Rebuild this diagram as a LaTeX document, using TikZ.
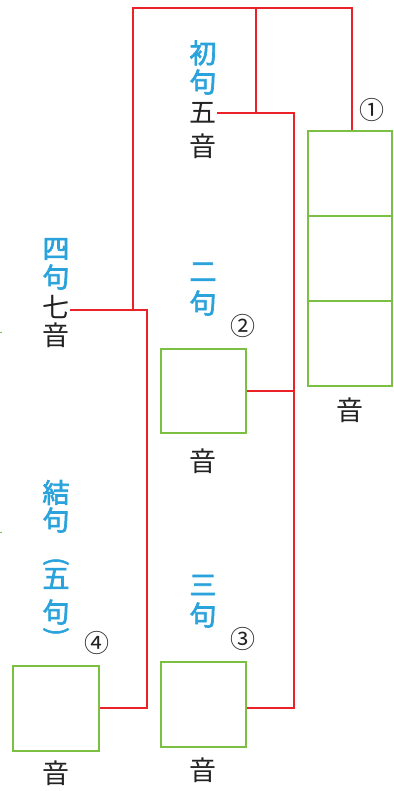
\documentclass[tikz,border=0pt]{standalone}
\usepackage{fontspec}
\newfontfamily\jp{Noto Sans CJK JP}
\newfontfamily\jpm{Noto Sans CJK JP}[FakeBold=2.5]
\definecolor{lblue}{HTML}{2AA2DB}
\definecolor{lred}{HTML}{EC2229}
\definecolor{lgreen}{HTML}{7BC043}
\definecolor{ltext}{HTML}{222222}
\tikzset{
  redline/.style={draw=lred, line width=2pt},
  gbox/.style={draw=lgreen, line width=1.7pt, inner sep=0, minimum width=85pt, minimum height=85pt},
  bluech/.style={text=lblue, inner sep=0.5pt, font=\jpm\fontsize{27}{27}\selectfont},
  bluepar/.style={text=lblue, inner sep=0pt, rotate=-90, font=\jpm\fontsize{25}{25}\selectfont},
  blackch/.style={text=ltext, inner sep=0.5pt, font=\jp\fontsize{27}{27}\selectfont},
  circnum/.style={text=ltext, inner sep=0, font=\jp\fontsize{25}{25}\selectfont},
}
\begin{document}
\begin{tikzpicture}[x=1pt,y=-1pt]
\path[use as bounding box] (0,0) rectangle (393,791);

% green boxes
\node[gbox, minimum width=84pt] (k1a) at (350,173.5) {};
\node[gbox, minimum width=84pt] (k1b) at (350,258.5) {};
\node[gbox, minimum width=84pt] (k1c) at (350,343.5) {};
\node[gbox, minimum height=84pt] (k2) at (203.5,391) {};
\node[gbox] (k3) at (203.5,704.5) {};
\node[gbox, minimum width=86pt] (k4) at (56,708.5) {};

% blue labels
\node[bluech] (c1a) at (203,53) {初};
\node[bluech] (c1b) at (203,82) {句};
\node[bluech] (c4a) at (56,249) {四};
\node[bluech] (c4b) at (56,277) {句};
\node[bluech] (c2a) at (203,272) {二};
\node[bluech] (c2b) at (203,303) {句};
\node[bluech] (c5a) at (56,492.5) {結};
\node[bluech] (c5b) at (56,520) {句};
\node[bluepar] (c5c) at (56,561.5) {(};
\node[bluech] (c5d) at (56,578.5) {五};
\node[bluech] (c5e) at (56,612) {句};
\node[bluepar] (c5f) at (56,631.5) {)};
\node[bluech] (c3a) at (203,585) {三};
\node[bluech] (c3b) at (203,615) {句};

% black labels
\node[blackch] (n1a) at (203,113) {五};
\node[blackch] (n1b) at (203,146) {音};
\node[blackch] (n4a) at (56,307) {七};
\node[blackch] (n4b) at (56,335) {音};
\node[blackch] (a1) at (350,410) {音};
\node[blackch] (a2) at (203,461) {音};
\node[blackch] (a3) at (203,770) {音};
\node[blackch] (a4) at (56,773) {音};

% circled numbers
\node[circnum] (o1) at (372,110) {①};
\node[circnum] (o2) at (243,326) {②};
\node[circnum] (o3) at (243,639) {③};
\node[circnum] (o4) at (97,643) {④};

% junction coordinates
\coordinate (tl) at (133,8);
\coordinate (tm) at (256,8);
\coordinate (tr) at (352,8);
\coordinate (j1) at (294,113);
\coordinate (b3) at (294,708);
\coordinate (j4) at (147,310);
\coordinate (b4) at (147,708);

% red connectors
\draw[redline, line cap=rect] (tl) -- (tr);
\draw[redline] (tr) -- (tr |- k1a.north);
\draw[redline] (tm) -- (tm |- n1a.east);
\draw[redline] (n1a.east) -- (j1) -- (b3) -- (b3 -| k3.east);
\draw[redline] (k2.east) -- (k2.east -| j1);
\draw[redline] (tl) -- (tl |- j4);
\draw[redline] (j4 -| n4a.east) -- (j4) -- (b4) -- (b4 -| k4.east);

% tiny green marks at the left edge
\draw[lgreen, line width=1pt] (0,332) -- (1.5,332);
\draw[lgreen, line width=1pt] (0,532) -- (1.5,532);
\end{tikzpicture}
\end{document}
